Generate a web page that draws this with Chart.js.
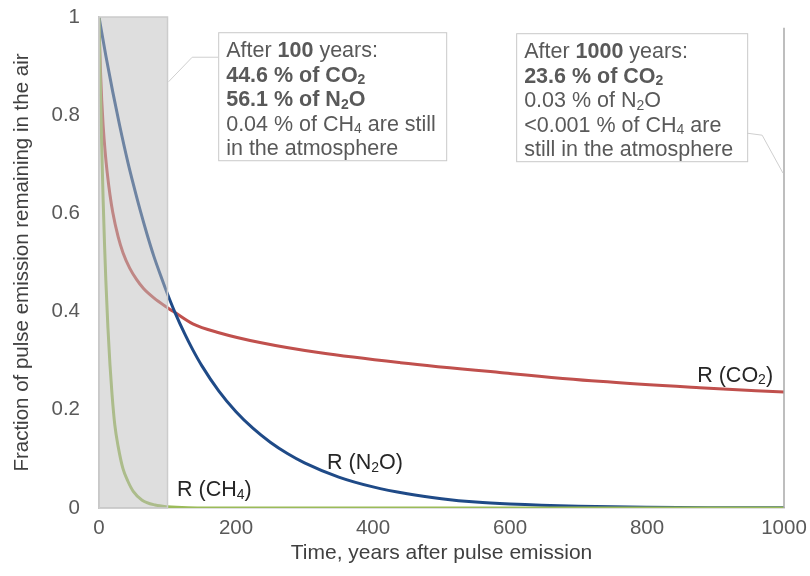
<!DOCTYPE html>
<html>
<head>
<meta charset="utf-8">
<script src="https://cdn.jsdelivr.net/npm/chart.js@4.4.0/dist/chart.umd.min.js"></script>
<style>
  html, body { margin: 0; padding: 0; background: #fff; }
  #wrap { width: 810px; height: 576px; }
</style>
</head>
<body>
<div id="wrap"><canvas id="myChart"></canvas></div>
<script>
// values
const tCO2 = [0, 1, 2, 4, 6, 9, 12, 16, 20, 28, 35, 45, 55, 65, 80, 100, 111, 137, 175, 235, 323, 440, 585, 730, 877, 1000];
const rCO2 = [1, 0.94, 0.895, 0.83, 0.78, 0.725, 0.683, 0.638, 0.603, 0.552, 0.52, 0.488, 0.465, 0.447, 0.428, 0.408, 0.398, 0.375, 0.357, 0.337, 0.316, 0.296, 0.276, 0.258, 0.245, 0.236];

const tN2O = [0, 10, 20, 30, 42, 50, 60, 70, 80, 92, 100, 111, 125, 137, 150, 175, 200, 225, 250, 275, 300, 350, 400, 450, 500, 550, 600, 700, 800, 900, 1000];
const rN2O = [1, 0.921, 0.848, 0.78, 0.705, 0.66, 0.607, 0.558, 0.513, 0.466, 0.436, 0.398, 0.355, 0.322, 0.29, 0.238, 0.196, 0.162, 0.134, 0.111, 0.092, 0.063, 0.043, 0.029, 0.019, 0.012, 0.008, 0.0035, 0.0015, 0.0007, 0.0003];

const tCH4 = [0, 2, 4, 6, 8, 10, 13, 16, 19, 23, 28, 35, 42, 50, 63, 82, 100, 130, 200, 1000];
const rCH4 = [1, 0.857, 0.735, 0.63, 0.54, 0.463, 0.368, 0.292, 0.232, 0.17, 0.125, 0.08, 0.055, 0.034, 0.016, 0.006, 0.0025, 0.0006, 0, 0];

const xTicks = [0, 200, 400, 600, 800, 1000];
const yTicks = [0, 0.2, 0.4, 0.6, 0.8, 1];

// text of the two boxes, runs of [text, flags]  (b = bold, s = subscript)
const box100 = [
    [['After '], ['100', 'b'], [' years:']],
    [['44.6 % of CO', 'b'], ['2', 'bs']],
    [['56.1 % of N', 'b'], ['2', 'bs'], ['O', 'b']],
    [['0.04 % of CH'], ['4', 's'], [' are still']],
    [['in the atmosphere']]
];
const box1000 = [
    [['After '], ['1000', 'b'], [' years:']],
    [['23.6 % of CO', 'b'], ['2', 'bs']],
    [['0.03 % of N'], ['2', 's'], ['O']],
    [['<0.001 % of CH'], ['4', 's'], [' are']],
    [['still in the atmosphere']]
];
const curveLabels = [
    { runs: [['R (CO'], ['2', 's'], [')']], x: 984, y: 0.257, align: 'right' },
    { runs: [['R (N'], ['2', 's'], ['O)']], x: 333, y: 0.079, align: 'left' },
    { runs: [['R (CH'], ['4', 's'], [')']], x: 114, y: 0.024, align: 'left' }
];

const FONT = '"Liberation Sans", Arial, sans-serif';

function pairs(xs, ys) {
    return xs.map((x, i) => ({ x: x, y: ys[i] }));
}

function richWidth(ctx, runs, size) {
    let w = 0;
    runs.forEach(r => {
        const f = r[1] || '';
        const s = f.includes('s') ? size * 0.65 : size;
        ctx.font = (f.includes('b') ? 'bold ' : '') + s + 'px ' + FONT;
        w += ctx.measureText(r[0]).width;
    });
    return w;
}

function drawRich(ctx, x, y, runs, size, color) {
    ctx.fillStyle = color;
    ctx.textBaseline = 'alphabetic';
    ctx.textAlign = 'left';
    runs.forEach(r => {
        const f = r[1] || '';
        const sub = f.includes('s');
        const s = sub ? size * 0.65 : size;
        ctx.font = (f.includes('b') ? 'bold ' : '') + s + 'px ' + FONT;
        ctx.fillText(r[0], x, y + (sub ? size * 0.12 : 0));
        x += ctx.measureText(r[0]).width;
    });
}

function drawBox(ctx, left, top, w, h, lines) {
    ctx.fillStyle = '#ffffff';
    ctx.fillRect(left, top, w, h);
    ctx.strokeStyle = '#c9c9c9';
    ctx.lineWidth = 1;
    ctx.strokeRect(left + 0.5, top + 0.5, w, h);
    lines.forEach((runs, i) => {
        drawRich(ctx, left + 8, top + 25 + i * 24.5, runs, 21.5, '#595959');
    });
}

// shaded first century, marker at 1000 years and the annotation boxes
const notes = {
    id: 'notes',
    afterDatasetsDraw(chart) {
        const ctx = chart.ctx;
        const xs = chart.scales.x, ys = chart.scales.y;
        ctx.save();

        // grey band 0-100 years, drawn over the curves
        const x0 = xs.getPixelForValue(0), x1 = xs.getPixelForValue(100);
        const y0 = ys.getPixelForValue(0), y1 = ys.getPixelForValue(1);
        ctx.fillStyle = 'rgba(190,190,190,0.5)';
        ctx.fillRect(x0, y1, x1 - x0, y0 - y1);
        ctx.strokeStyle = '#cccccc';
        ctx.lineWidth = 1.5;
        ctx.strokeRect(x0, y1, x1 - x0, y0 - y1);

        // line at 1000 years
        const xe = xs.getPixelForValue(1000);
        ctx.strokeStyle = '#a8a8a8';
        ctx.lineWidth = 1.5;
        ctx.beginPath();
        ctx.moveTo(xe, ys.getPixelForValue(0.978));
        ctx.lineTo(xe, y0);
        ctx.stroke();

        // boxes
        const b1x = xs.getPixelForValue(174), b1y = ys.getPixelForValue(0.969);
        const b2x = xs.getPixelForValue(609), b2y = ys.getPixelForValue(0.967);

        ctx.strokeStyle = '#cfcfcf';
        ctx.lineWidth = 1;
        ctx.beginPath();
        ctx.moveTo(b1x, b1y + 25);
        ctx.lineTo(b1x - 26, b1y + 25);
        ctx.lineTo(x1 + 1, ys.getPixelForValue(0.868));
        ctx.stroke();

        ctx.beginPath();
        ctx.moveTo(b2x + 231, b2y + 100);
        ctx.lineTo(b2x + 246, b2y + 102);
        ctx.lineTo(xe - 1, ys.getPixelForValue(0.682));
        ctx.stroke();

        drawBox(ctx, b1x, b1y, 228, 128, box100);
        drawBox(ctx, b2x, b2y, 231, 128, box1000);

        // curve names
        curveLabels.forEach(l => {
            let px = xs.getPixelForValue(l.x);
            if (l.align === 'right') px -= richWidth(ctx, l.runs, 21.5);
            drawRich(ctx, px, ys.getPixelForValue(l.y), l.runs, 21.5, '#262626');
        });
        ctx.restore();
    }
};

const data = {
    datasets: [{
        label: 'R (CH4)',
        data: pairs(tCH4, rCH4),
        borderColor: '#9bbb59',
        order: 0
    }, {
        label: 'R (N2O)',
        data: pairs(tN2O, rN2O),
        borderColor: '#1f4a87',
        order: 1
    }, {
        label: 'R (CO2)',
        data: pairs(tCO2, rCO2),
        borderColor: '#c0504d',
        order: 2
    }]
};

const config = {
    type: 'line',
    data,
    options: {
        responsive: true,
        maintainAspectRatio: false,
        animation: false,
        layout: { padding: { top: 17, right: 26, left: 0, bottom: 0 } },
        elements: {
            line: { borderWidth: 3, cubicInterpolationMode: 'monotone', fill: false },
            point: { radius: 0 }
        },
        scales: {
            x: {
                type: 'linear',
                min: 0,
                max: 1000,
                afterFit: (s) => { s.height = 68; s.paddingLeft = 0; s.paddingRight = 0; },
                afterBuildTicks: (s) => { s.ticks = xTicks.map(v => ({ value: v })); },
                grid: { display: false, drawTicks: false },
                border: { display: true, color: '#bfbfbf', width: 1.5 },
                ticks: {
                    padding: 8, color: '#595959', font: { family: FONT, size: 20.5 },
                    callback: (v) => String(v)
                },
                title: {
                    display: true,
                    text: 'Time, years after pulse emission',
                    color: '#404040',
                    font: { family: FONT, size: 21 },
                    padding: { top: 0, bottom: 10 }
                }
            },
            y: {
                min: 0,
                max: 1,
                afterFit: (s) => { s.width = 99; s.paddingTop = 0; s.paddingBottom = 0; },
                afterBuildTicks: (s) => { s.ticks = yTicks.map(v => ({ value: v })); },
                grid: { display: false, drawTicks: false },
                border: { display: true, color: '#bfbfbf', width: 1.5 },
                ticks: {
                    padding: 19, color: '#595959', font: { family: FONT, size: 20.5 },
                    callback: (v) => String(v)
                },
                title: {
                    display: true,
                    text: 'Fraction of pulse emission remaining in the air',
                    color: '#404040',
                    font: { family: FONT, size: 20.5 },
                    padding: { top: 10, bottom: 0 }
                }
            }
        },
        plugins: {
            legend: { display: false },
            tooltip: { enabled: false }
        }
    },
    plugins: [notes]
};

const myChart = new Chart(document.getElementById('myChart'), config);
</script>
</body>
</html>
